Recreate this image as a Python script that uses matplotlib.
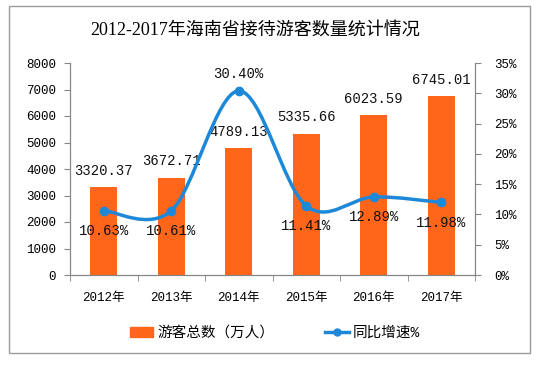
import numpy as np
import matplotlib.pyplot as plt
from matplotlib.path import Path
from matplotlib.patches import PathPatch, Rectangle
from matplotlib.lines import Line2D

plt.rcParams['font.family'] = ['Liberation Mono', 'Noto Sans CJK SC']

years = ['2012年', '2013年', '2014年', '2015年', '2016年', '2017年']
visitors = [3320.37, 3672.71, 4789.13, 5335.66, 6023.59, 6745.01]
growth = [10.63, 10.61, 30.40, 11.41, 12.89, 11.98]

bar_color = '#FF661A'
line_color = '#1E88D8'
axis_color = '#868686'

fig = plt.figure(figsize=(5.53, 3.71), dpi=100)
ax = fig.add_axes([70 / 553, 1 - 275 / 371, 405 / 553, 212 / 371])
ax2 = ax.twinx()

x = np.arange(len(years))
ax.bar(x, visitors, width=0.4, color=bar_color, zorder=2)
ax.set_xlim(-0.5, len(years) - 0.5)
ax.set_ylim(0, 8000)
ax.set_yticks(range(0, 8001, 1000))
ax2.set_ylim(0, 35)
ax2.set_yticks(range(0, 36, 5))
ax2.set_yticklabels([f'{v}%' for v in range(0, 36, 5)])

ax.set_xticks(x)
ax.set_xticklabels(years)
ax.set_xticks(np.arange(-0.5, len(years)), minor=True)
ax.tick_params(axis='x', which='major', length=0, pad=12, labelsize=9)
ax.tick_params(axis='x', which='minor', length=4, color=axis_color)
ax.tick_params(axis='y', length=4, color=axis_color, labelsize=9, pad=6)
ax2.tick_params(axis='y', length=4, color=axis_color, labelsize=9, pad=10)

for a in (ax, ax2):
    a.spines['top'].set_visible(False)
    for s in ('left', 'right', 'bottom'):
        a.spines[s].set_color(axis_color)

# smooth curve (Catmull-Rom drawn as cubic Bezier segments)
pts = np.column_stack([x, growth]).astype(float)
ext = np.vstack([pts[0], pts, pts[-1]])
verts = [tuple(pts[0])]
codes = [Path.MOVETO]
for i in range(len(pts) - 1):
    p0, p1, p2, p3 = ext[i], ext[i + 1], ext[i + 2], ext[i + 3]
    c1 = p1 + (p2 - p0) / 6
    c2 = p2 - (p3 - p1) / 6
    verts += [tuple(c1), tuple(c2), tuple(p2)]
    codes += [Path.CURVE4] * 3
ax2.add_patch(PathPatch(Path(verts, codes), fill=False, edgecolor=line_color, lw=2.5, zorder=3))
ax2.plot(x, growth, 'o', color=line_color, ms=6, zorder=4)

for xi, v in zip(x, visitors):
    ax.text(xi, v + 350, f'{v:.2f}', ha='center', va='bottom', fontsize=10, color='#111111')
for xi, g in zip(x, growth):
    if g == max(growth):
        ax2.text(xi, g + 2.8, f'{g:.2f}%', ha='center', va='center', fontsize=10, color='#111111')
    else:
        ax2.text(xi, g - 2.2, f'{g:.2f}%', ha='center', va='top', fontsize=10, color='#111111')

fig.text(0.462, 1 - 30 / 371, '2012-2017年海南省接待游客数量统计情况', ha='center', va='center',
         fontsize=13, fontweight='medium', family=['Liberation Serif', 'Noto Sans CJK SC'],
         color='#000000')

# legend
handles = [Rectangle((0, 0), 1, 1, color=bar_color),
           Line2D([0], [0], color=line_color, lw=2.5, marker='o', ms=5)]
fig.legend(handles, ['游客总数（万人）', '同比增速%'], loc='center', ncol=2,
           bbox_to_anchor=(275 / 553, 1 - 333 / 371), frameon=False, fontsize=10.5,
           handlelength=1.6, columnspacing=3.5, handletextpad=0.3)

# outer frame
fig.patches.append(Rectangle((9 / 553, 1 - 353 / 371), 521 / 553, 347 / 371, transform=fig.transFigure,
                             fill=False, edgecolor='#9a9a9a', lw=1))

fig.savefig('out.png', dpi=100)
